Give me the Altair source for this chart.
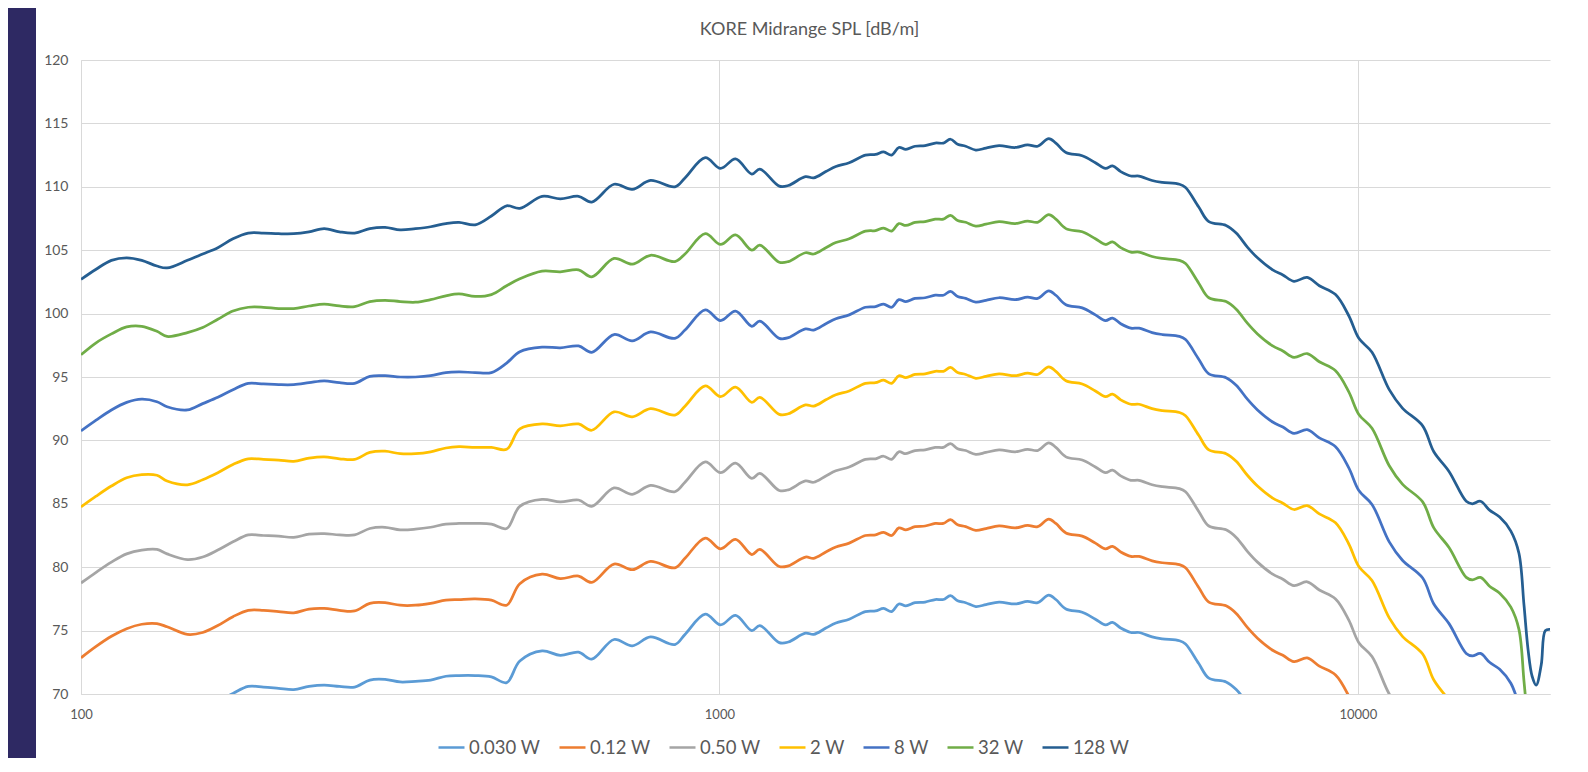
import altair as alt
import pandas as pd

# ---- data ----
freq_hz = [100, 105.6, 111.6, 117.9, 124.5, 131.5, 136.4, 146.8, 155.1, 163.8,
           173.0, 182.8, 193.1, 204.0, 215.4, 227.6, 240.4, 254.0, 268.3, 283.4,
           299.4, 316.2, 334.1, 352.9, 372.8, 390.9, 414.4, 439.4, 464.2, 486.8,
           527.5, 563.4, 601.7, 631.0, 683.8, 730.3, 780.0, 851.5, 883.2, 950.2, 1004,
           1060, 1124, 1157, 1241, 1282, 1364, 1405, 1468, 1522, 1597,
           1693, 1756, 1808, 1861, 1910, 1959, 2025, 2100, 2178, 2243,
           2301, 2361, 2431, 2521, 2615, 2742, 2907, 3038, 3151, 3280,
           3365, 3490, 3701, 3881, 4025, 4129, 4252, 4410, 4541, 4762,
           4939, 5256, 5372, 5634, 5843, 6218, 6449, 6714, 6964, 7356,
           7631, 7943, 8330, 8704, 9228, 9676, 10037,
           10525, 11200, 11745, 12635, 13154, 13895, 14786, 15114, 15562, 16083,
           16681, 17366, 17880, 18210, 18479, 18751, 19028, 19378, 19664, 20000]

spl_128w = [102.7, 103.5, 104.2, 104.4, 104.2, 103.75, 103.6, 104.2, 104.7, 105.2,
            105.9, 106.35, 106.35, 106.3, 106.3, 106.45, 106.7, 106.45, 106.35, 106.7,
            106.8, 106.6, 106.7, 106.85, 107.1, 107.2, 107.0, 107.7, 108.5, 108.3,
            109.25, 109.05, 109.25, 108.8, 110.2, 109.8, 110.5, 110.0, 110.7, 112.3, 111.45,
            112.2, 111.0, 111.4, 110.05, 110.1, 110.8, 110.7, 111.2, 111.6, 111.9,
            112.5, 112.55, 112.75, 112.5, 113.1, 112.95, 113.2, 113.25, 113.45, 113.45,
            113.75, 113.35, 113.2, 112.9, 113.05, 113.25, 113.1, 113.3, 113.2, 113.8,
            113.45, 112.7, 112.45, 111.9, 111.45, 111.65, 111.2, 110.85, 110.85, 110.5,
            110.35, 110.2, 109.95, 108.4, 107.25, 106.95, 106.35, 105.25, 104.4, 103.45,
            103.05, 102.55, 102.85, 102.2, 101.5, 99.85, 98.05,
            96.95, 94.0, 92.55, 91.15, 89.1, 87.55, 85.2, 85.0, 85.2, 84.5,
            83.95, 82.85, 81.1, 77.0, 73.5, 71.4, 70.7, 72.3, 75.0, 75.1]

spl_32w = [96.75, 97.7, 98.4, 98.95, 99.0, 98.6, 98.2, 98.5, 98.9, 99.55,
           100.2, 100.5, 100.5, 100.4, 100.4, 100.6, 100.75, 100.6, 100.55, 100.95,
           101.05, 100.95, 100.9, 101.1, 101.4, 101.55, 101.35, 101.5, 102.2, 102.75,
           103.35, 103.3, 103.45, 102.9, 104.35, 103.9, 104.6, 104.1, 104.7, 106.3, 105.45,
           106.2, 105.0, 105.4, 104.05, 104.1, 104.8, 104.7, 105.2, 105.6, 105.9,
           106.5, 106.55, 106.75, 106.5, 107.1, 106.95, 107.2, 107.25, 107.45, 107.45,
           107.75, 107.35, 107.2, 106.9, 107.05, 107.25, 107.1, 107.3, 107.2, 107.8,
           107.45, 106.7, 106.45, 105.9, 105.45, 105.65, 105.2, 104.85, 104.85, 104.5,
           104.35, 104.2, 103.95, 102.4, 101.25, 100.95, 100.35, 99.25, 98.4, 97.45,
           97.05, 96.55, 96.85, 96.2, 95.5, 93.85, 92.05,
           90.95, 88.0, 86.55, 85.15, 83.1, 81.55, 79.2, 79.0, 79.2, 78.5,
           77.95, 76.85, 75.1, 71.0, 67.5] + [None] * 5

spl_8w = [90.75, 91.6, 92.4, 93.0, 93.25, 93.05, 92.65, 92.4, 92.9, 93.4,
          94.0, 94.5, 94.45, 94.4, 94.4, 94.55, 94.7, 94.55, 94.5, 95.05,
          95.1, 95.0, 95.0, 95.1, 95.35, 95.4, 95.35, 95.35, 96.1, 97.0,
          97.35, 97.3, 97.45, 96.95, 98.35, 97.85, 98.55, 98.05, 98.7, 100.3, 99.45,
          100.2, 99.0, 99.4, 98.05, 98.1, 98.8, 98.7, 99.2, 99.6, 99.9,
          100.5, 100.55, 100.75, 100.5, 101.1, 100.95, 101.2, 101.25, 101.45, 101.45,
          101.75, 101.35, 101.2, 100.9, 101.05, 101.25, 101.1, 101.3, 101.2, 101.8,
          101.45, 100.7, 100.45, 99.9, 99.45, 99.65, 99.2, 98.85, 98.85, 98.5,
          98.35, 98.2, 97.95, 96.4, 95.25, 94.95, 94.35, 93.25, 92.4, 91.45,
          91.05, 90.55, 90.85, 90.2, 89.5, 87.85, 86.05,
          84.95, 82.0, 80.55, 79.15, 77.1, 75.55, 73.2, 73.0, 73.2, 72.5,
          71.95, 70.85, 69.1] + [None] * 7

spl_2w = [84.75, 85.6, 86.4, 87.05, 87.3, 87.25, 86.8, 86.5, 86.9, 87.45,
          88.1, 88.55, 88.5, 88.45, 88.35, 88.6, 88.7, 88.55, 88.5, 89.05,
          89.15, 88.95, 88.95, 89.1, 89.4, 89.5, 89.45, 89.45, 89.3, 90.9,
          91.3, 91.15, 91.3, 90.8, 92.25, 91.85, 92.5, 92.0, 92.7, 94.3, 93.45,
          94.2, 93.0, 93.4, 92.05, 92.1, 92.8, 92.7, 93.2, 93.6, 93.9,
          94.5, 94.55, 94.75, 94.5, 95.1, 94.95, 95.2, 95.25, 95.45, 95.45,
          95.75, 95.35, 95.2, 94.9, 95.05, 95.25, 95.1, 95.3, 95.2, 95.8,
          95.45, 94.7, 94.45, 93.9, 93.45, 93.65, 93.2, 92.85, 92.85, 92.5,
          92.35, 92.2, 91.95, 90.4, 89.25, 88.95, 88.35, 87.25, 86.4, 85.45,
          85.05, 84.55, 84.85, 84.2, 83.5, 81.85, 80.05,
          78.95, 76.0, 74.55, 73.15, 71.1, 69.55] + [None] * 14

spl_050w = [78.75, 79.6, 80.4, 81.05, 81.35, 81.4, 81.05, 80.6, 80.8, 81.35,
            82.0, 82.55, 82.5, 82.45, 82.35, 82.6, 82.65, 82.55, 82.55, 83.05,
            83.15, 82.95, 83.0, 83.15, 83.4, 83.45, 83.45, 83.4, 83.05, 84.8,
            85.35, 85.15, 85.3, 84.8, 86.25, 85.75, 86.45, 85.95, 86.7, 88.3, 87.45,
            88.2, 87.0, 87.4, 86.05, 86.1, 86.8, 86.7, 87.2, 87.6, 87.9,
            88.5, 88.55, 88.75, 88.5, 89.1, 88.95, 89.2, 89.25, 89.45, 89.45,
            89.75, 89.35, 89.2, 88.9, 89.05, 89.25, 89.1, 89.3, 89.2, 89.8,
            89.45, 88.7, 88.45, 87.9, 87.45, 87.65, 87.2, 86.85, 86.85, 86.5,
            86.35, 86.2, 85.95, 84.4, 83.25, 82.95, 82.35, 81.25, 80.4, 79.45,
            79.05, 78.55, 78.85, 78.2, 77.5, 75.85, 74.05,
            72.95, 70.0, 68.55] + [None] * 17

spl_012w = [72.85, 73.75, 74.55, 75.15, 75.5, 75.55, 75.3, 74.7, 74.85, 75.4,
            76.1, 76.6, 76.6, 76.5, 76.4, 76.7, 76.75, 76.6, 76.55, 77.15,
            77.2, 77.0, 77.0, 77.15, 77.4, 77.45, 77.5, 77.4, 77.0, 78.7,
            79.45, 79.1, 79.3, 78.8, 80.25, 79.8, 80.45, 79.95, 80.7, 82.3, 81.45,
            82.2, 81.0, 81.4, 80.05, 80.1, 80.8, 80.7, 81.2, 81.6, 81.9,
            82.5, 82.55, 82.75, 82.5, 83.1, 82.95, 83.2, 83.25, 83.45, 83.45,
            83.75, 83.35, 83.2, 82.9, 83.05, 83.25, 83.1, 83.3, 83.2, 83.8,
            83.45, 82.7, 82.45, 81.9, 81.45, 81.65, 81.2, 80.85, 80.85, 80.5,
            80.35, 80.2, 79.95, 78.4, 77.25, 76.95, 76.35, 75.25, 74.4, 73.45,
            73.05, 72.55, 72.85, 72.2, 71.5, 69.85, 68.05] + [None] * 20

spl_0030w = [None] * 8 + [
             68.85, 69.4,
             70.05, 70.6, 70.55, 70.45, 70.35, 70.6, 70.7, 70.6, 70.55, 71.1,
             71.15, 70.95, 71.0, 71.1, 71.4, 71.45, 71.45, 71.35, 70.9, 72.6,
             73.4, 73.05, 73.3, 72.75, 74.3, 73.8, 74.5, 73.9, 74.7, 76.3, 75.45,
             76.2, 75.0, 75.4, 74.05, 74.1, 74.8, 74.7, 75.2, 75.6, 75.9,
             76.5, 76.55, 76.75, 76.5, 77.1, 76.95, 77.2, 77.25, 77.45, 77.45,
             77.75, 77.35, 77.2, 76.9, 77.05, 77.25, 77.1, 77.3, 77.2, 77.8,
             77.45, 76.7, 76.45, 75.9, 75.45, 75.65, 75.2, 74.85, 74.85, 74.5,
             74.35, 74.2, 73.95, 72.4, 71.25, 70.95, 70.35, 69.25] + [None] * 29

series_names = ["0.030 W", "0.12 W", "0.50 W", "2 W", "8 W", "32 W", "128 W"]
series_colors = ["#5B9BD5", "#ED7D31", "#A5A5A5", "#FFC000", "#4472C4", "#70AD47", "#255E91"]
series_values = [spl_0030w, spl_012w, spl_050w, spl_2w, spl_8w, spl_32w, spl_128w]
y_ticks = [70, 75, 80, 85, 90, 95, 100, 105, 110, 115, 120]
x_ticks = [100, 1000, 10000]
chart_title = "KORE Midrange SPL [dB/m]"

rows = []
for name, vals in zip(series_names, series_values):
    if len(vals) != len(freq_hz):
        raise ValueError(f"{name}: {len(vals)} values vs {len(freq_hz)} frequencies")
    for f, v in zip(freq_hz, vals):
        if v is not None:
            rows.append({"freq": f, "spl": v, "series": name})
df = pd.DataFrame(rows)

W, H = 1469, 634
PAD_L, PAD_T, PAD_R, PAD_B = 73, 52, 30, 64
FONT = "Lato"
TXT = "#595959"
GRID = "#d9d9d9"
NAVY = "#2e2963"

# navy frame strip on the left of the white chart card
strip = alt.Chart(alt.Data(values=[{}])).mark_rect(color=NAVY).encode(
    x=alt.value(-PAD_L), x2=alt.value(-45), y=alt.value(-PAD_T), y2=alt.value(H + PAD_B)
)

title = alt.Chart(alt.Data(values=[{}])).mark_text(
    text=chart_title, font=FONT, fontSize=18, color=TXT, align="center", baseline="middle"
).encode(x=alt.value(W / 2 - 6), y=alt.value(-30))

lines = alt.Chart(df).mark_line(interpolate="catmull-rom", strokeWidth=2.75, clip=True).encode(
    x=alt.X("freq:Q",
            scale=alt.Scale(type="log", domain=[100, 20000], nice=False),
            axis=alt.Axis(values=x_ticks, format="d", title=None, grid=True, gridColor=GRID,
                          ticks=False, domainColor=GRID, labelFont=FONT, labelFontSize=13,
                          labelColor=TXT, labelPadding=14, labelFlush=False)),
    y=alt.Y("spl:Q",
            scale=alt.Scale(domain=[70, 120], nice=False, zero=False),
            axis=alt.Axis(values=y_ticks, title=None, grid=True, gridColor=GRID,
                          ticks=False, domainColor=GRID, labelFont=FONT, labelFontSize=14,
                          labelColor=TXT, labelPadding=13)),
    color=alt.Color("series:N",
                    scale=alt.Scale(domain=series_names, range=series_colors),
                    sort=series_names,
                    legend=alt.Legend(orient="none", legendX=356, legendY=673,
                                      direction="horizontal", columns=7, title=None,
                                      symbolType="stroke", symbolSize=676,
                                      symbolStrokeWidth=2.5, labelFont=FONT,
                                      labelFontSize=18.5, labelColor=TXT, labelOffset=3,
                                      columnPadding=13)),
)

chart = alt.layer(strip, title, lines).properties(
    width=W, height=H,
    padding={"left": PAD_L, "top": PAD_T, "right": PAD_R, "bottom": PAD_B},
    autosize=alt.AutoSizeParams(type="none"),
    background="white",
).configure_view(stroke=None)

chart.save("out.html", embed_options={"renderer": "svg", "actions": False})
